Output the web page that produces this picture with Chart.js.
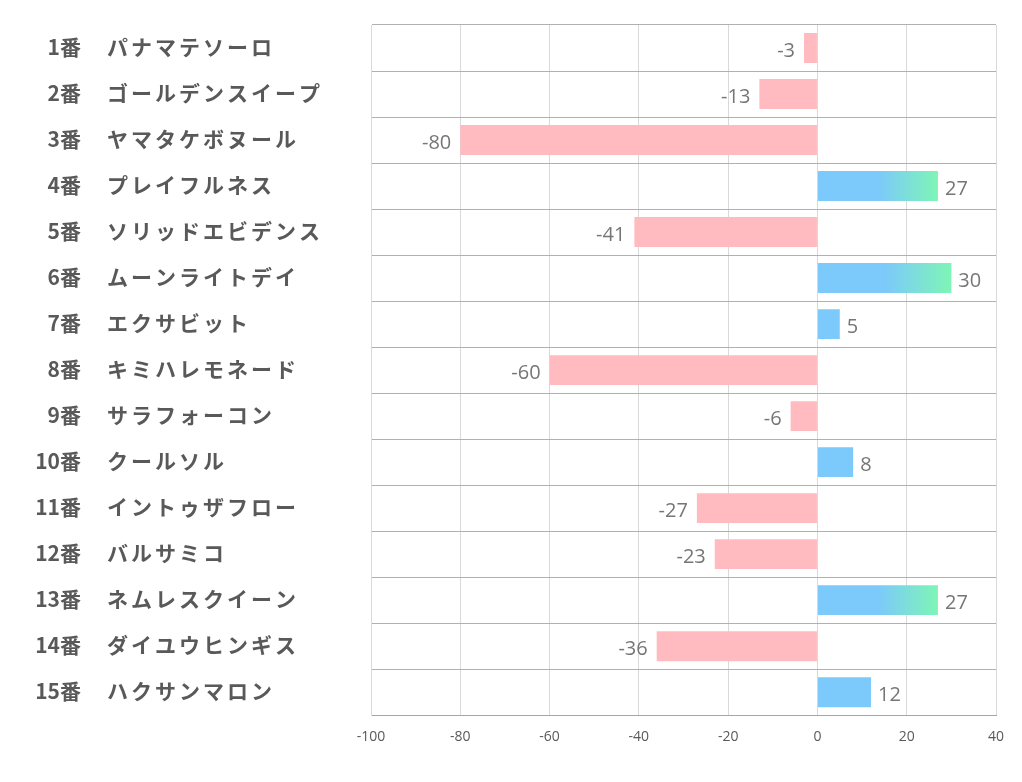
<!DOCTYPE html>
<html><head><meta charset="utf-8">
<script src="https://cdn.jsdelivr.net/npm/chart.js@4.4.0/dist/chart.umd.min.js"></script>
<style>html,body{margin:0;padding:0;background:#fff}#wrap{width:1022px;height:782px}</style>
</head><body><div id="wrap"><canvas id="c"></canvas></div>
<script>
const numbers = ["1番","2番","3番","4番","5番","6番","7番","8番","9番","10番","11番","12番","13番","14番","15番"];
const names = ["パナマテソーロ","ゴールデンスイープ","ヤマタケボヌール","プレイフルネス","ソリッドエビデンス","ムーンライトデイ","エクサビット","キミハレモネード","サラフォーコン","クールソル","イントゥザフロー","バルサミコ","ネムレスクイーン","ダイユウヒンギス","ハクサンマロン"];
const values = [-3,-13,-80,27,-41,30,5,-60,-6,8,-27,-23,27,-36,12];
const xTicks = [-100,-80,-60,-40,-20,0,20,40];

const PINK = '#FFBBBF', BLUE = '#7CC9FB', GREEN = '#7EF5B6';

function barColor(ctx){
  const v = ctx.raw;
  if (v < 0) return PINK;
  if (v < 20) return BLUE;
  const chart = ctx.chart, xs = chart.scales.x;
  if (!xs) return BLUE;
  const x0 = xs.getPixelForValue(0), x1 = xs.getPixelForValue(v);
  const g = chart.ctx.createLinearGradient(x0,0,x1,0);
  g.addColorStop(0,BLUE); g.addColorStop(0.5,BLUE); g.addColorStop(1,GREEN);
  return g;
}

const labelPlugin = {
  id:'labels',
  afterDatasetsDraw(chart){
    const {ctx, scales:{x,y}} = chart;
    ctx.save();
    ctx.textBaseline='middle';
    for (let i=0;i<values.length;i++){
      const cy = y.getPixelForValue(i);
      ctx.fillStyle='#595959';
      ctx.font='bold 21px "Noto Sans CJK JP"';
      ctx.letterSpacing='0px';
      ctx.textAlign='right';
      ctx.fillText(numbers[i],81,cy-1);
      ctx.textAlign='left';
      ctx.letterSpacing='3px';
      ctx.fillText(names[i],107,cy-1);
      ctx.letterSpacing='0px';
      const v = values[i];
      const px = x.getPixelForValue(v);
      ctx.fillStyle='#767676';
      ctx.font='20px "Open Sans"';
      if (v<0){ctx.textAlign='right';ctx.fillText(String(v),px-9,cy+3);}
      else {ctx.textAlign='left';ctx.fillText(String(v),px+7,cy+3);}
    }
    ctx.restore();
  }
};

new Chart(document.getElementById('c'),{
  type:'bar',
  data:{labels:names,datasets:[{data:values,backgroundColor:barColor,categoryPercentage:1,barPercentage:0.65}]},
  options:{
    indexAxis:'y',responsive:true,maintainAspectRatio:false,animation:false,
    layout:{padding:{left:371,right:26,top:25,bottom:24}},
    plugins:{legend:{display:false},tooltip:{enabled:false}},
    scales:{
      x:{min:-100,max:40,
        afterBuildTicks(s){s.ticks=xTicks.map(v=>({value:v}));},
        grid:{color:'#d9d9d9',drawTicks:false},
        border:{color:'#a6a6a6'},
        ticks:{color:'#595959',font:{family:'"Liberation Sans Narrow","Open Sans"',size:14},padding:13}},
      y:{grid:{color:'#b0b0b0',offset:true,drawTicks:false},border:{color:'#d9d9d9'},ticks:{display:false}}
    }
  },
  plugins:[labelPlugin]
});
</script></body></html>
